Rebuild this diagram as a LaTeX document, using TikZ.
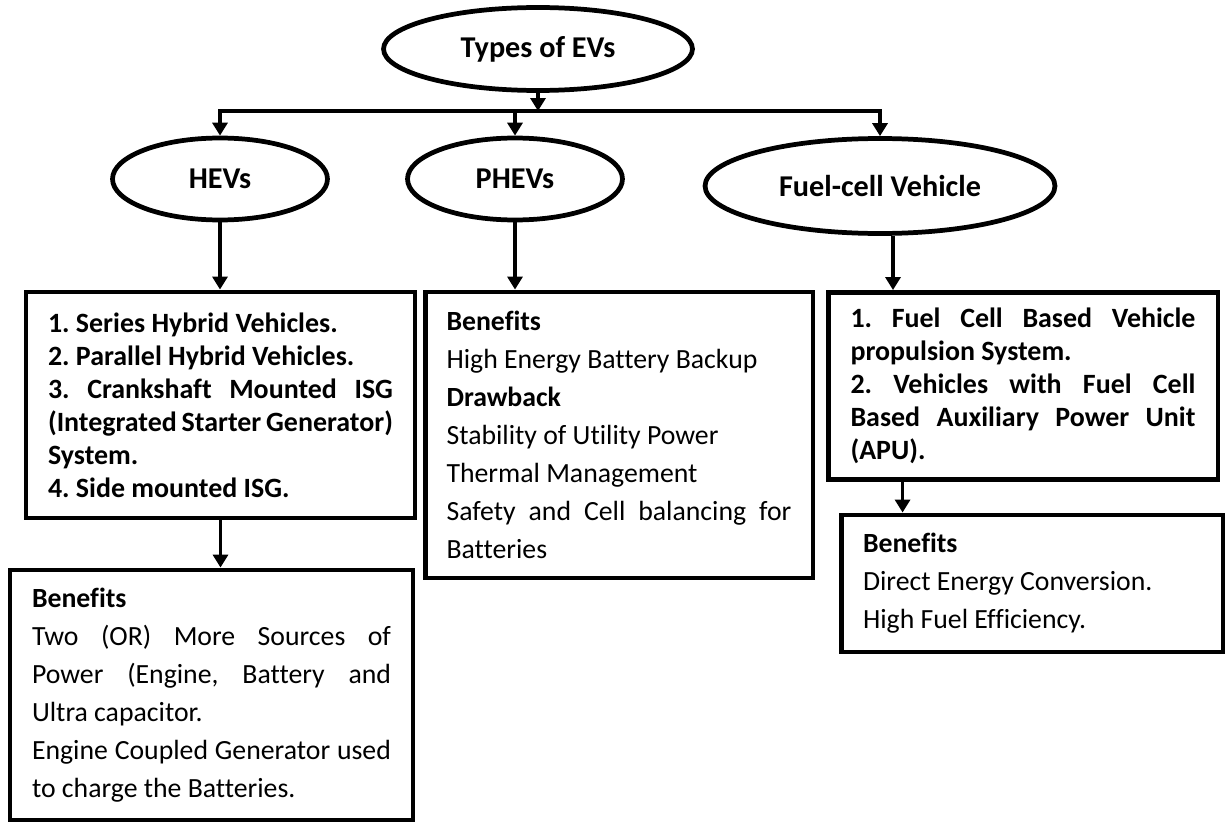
\documentclass[tikz,border=0pt]{standalone}
\usepackage{fontspec}
\setmainfont{Carlito}[Ligatures=NoCommon]
\usetikzlibrary{arrows.meta,positioning,shapes.geometric}
\setlength{\parindent}{0pt}
\frenchspacing

\begin{document}
\begin{tikzpicture}[
x=0.02cm, y=-0.02cm,
ev/.style={draw, ellipse, line width=2.7pt, inner sep=0pt, font=\fontsize{17.2}{20}\selectfont\bfseries},
block/.style={draw, rectangle, line width=2.8pt, inner sep=0pt, align=justify, text width=6.9cm},
list/.style={block, font=\fontsize{15.9}{18.8}\selectfont\bfseries},
info/.style={block, font=\fontsize{15.8}{21.6}\selectfont},
arrow/.style={-{Triangle[length=0.26cm, width=0.3cm]}, line width=2pt},
bus/.style={line width=2pt, line cap=rect}
]
\useasboundingbox (0,0) rectangle (1226,821);

% ellipses
\node[ev, minimum width=6.18cm, minimum height=1.66cm] (evs) at (538,49) {Types of EVs};
\node[ev, minimum width=4.3cm, minimum height=1.64cm] (hev) at (220,179) {HEVs};
\node[ev, minimum width=4.3cm, minimum height=1.64cm] (phev) at (515,179) {PHEVs};
\node[ev, minimum width=7.0cm, minimum height=1.9cm] (fcv) at (880,186) {Fuel-cell Vehicle};

% boxes
\node[list, minimum width=7.78cm, minimum height=4.52cm] (hevlist) at (220.5,405) {%
1. Series Hybrid Vehicles.\par
2. Parallel Hybrid Vehicles.\par
3. Crankshaft Mounted ISG\linebreak (Integrated Starter Generator)\linebreak System.\par
4. Side mounted ISG.};
\node[info, minimum width=7.76cm, minimum height=5.72cm] (phevinfo) at (619,435) {%
\textbf{Benefits}\par
High Energy Battery Backup\par
\textbf{Drawback}\par
Stability of Utility Power\par
Thermal Management\par
Safety and Cell balancing for\linebreak Batteries};
\node[list, minimum width=7.8cm, minimum height=3.74cm] (fcvlist) at (1023,386) {%
1. Fuel Cell Based Vehicle\linebreak propulsion System.\par
2. Vehicles with Fuel Cell\linebreak Based Auxiliary Power Unit\linebreak (APU).};
\node[info, minimum width=7.64cm, minimum height=2.74cm, text width=6.76cm] (fcvinfo) at (1032,583.5) {%
\textbf{Benefits}\par
Direct Energy Conversion.\par
High Fuel Efficiency.};
\node[info, minimum width=8.06cm, minimum height=5.0cm, text width=7.18cm] (hevinfo) at (211.5,695) {%
\textbf{Benefits}\par
Two (OR) More Sources of\linebreak Power (Engine, Battery and\linebreak Ultra capacitor.\par
Engine Coupled Generator used\linebreak to charge the Batteries.};

% connectors
\coordinate (bus) at (538,111);
\draw[arrow] (evs) -- (bus);
\draw[bus] (bus -| hev) -- (bus -| fcv);
\draw[arrow] (bus -| hev) -- (hev);
\draw[arrow] (bus -| phev) -- (phev);
\draw[arrow] (bus -| fcv) -- (fcv);
\draw[arrow] (hev) -- (hev |- hevlist.north);
\draw[arrow] (phev) -- (phev |- phevinfo.north);
\draw[arrow] ([xshift=0.26cm]fcv.south) -- ([xshift=0.26cm]fcv.south |- fcvlist.north);
\draw[arrow] (hevlist) -- (hevlist |- hevinfo.north);
\draw[arrow] ([xshift=1.54cm]fcvlist.south west) -- ([xshift=1.54cm]fcvlist.south west |- fcvinfo.north);
\end{tikzpicture}
\end{document}
